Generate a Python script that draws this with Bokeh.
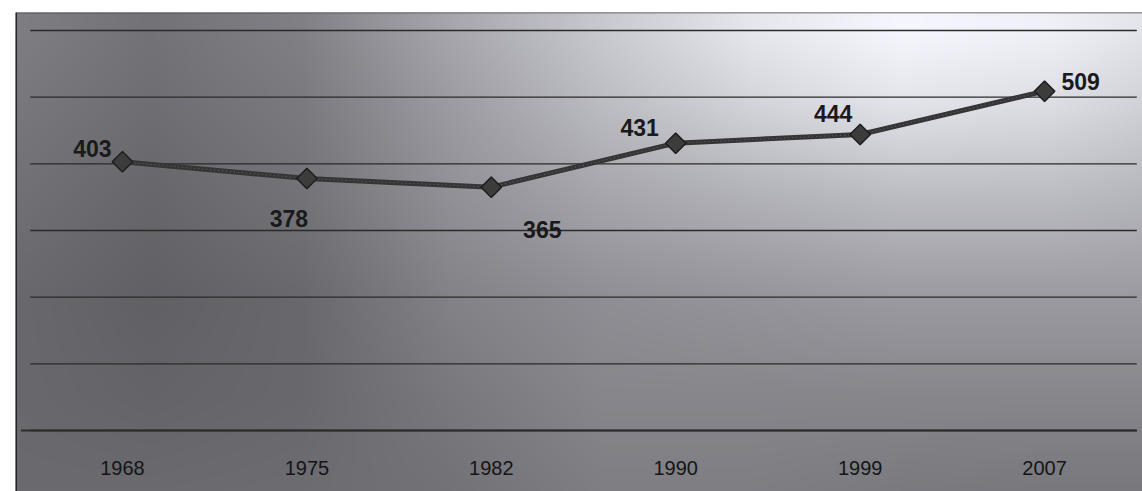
import numpy as np
from bokeh.plotting import figure
from bokeh.models import Range1d, Span
from bokeh.embed import file_html
from bokeh.resources import INLINE
from bokeh.core.properties import value

# ---- data ----
years = ["1968", "1975", "1982", "1990", "1999", "2007"]
values = [403, 378, 365, 431, 444, 509]
grid_levels = [0, 100, 200, 300, 400, 500, 600]

# ---- label placement (style, pixels) ----
label_dx = [-30, -18, 51, -36, -27, 36]
label_dy = [-13, 40, 42, -16, -21, -10]

xs = list(range(len(years)))
x_start, x_end = -0.580, 5.531
y_start, y_end = -91.5, 627.0

W, H = 1142, 491
p = figure(width=W, height=H,
           x_range=Range1d(x_start, x_end), y_range=Range1d(y_start, y_end),
           output_backend="svg", toolbar_location=None,
           x_axis_location=None, y_axis_location=None,
           min_border_left=15, min_border_right=0,
           min_border_top=12, min_border_bottom=0,
           border_fill_color="white", outline_line_color=None)
p.grid.visible = False

# ---- background shading (scanned grey gradient) ----
gx = [15, 150, 300, 450, 600, 750, 900, 1050, 1142]
gy = [30, 100, 200, 300, 400, 491]
G = [
    [126, 114, 128, 166, 200, 230, 246, 240, 228],
    [120, 110, 122, 156, 188, 212, 228, 222, 210],
    [112, 102, 114, 144, 164, 176, 186, 186, 180],
    [104, 96, 104, 130, 142, 148, 154, 154, 154],
    [104, 100, 104, 120, 134, 134, 134, 134, 134],
    [106, 106, 108, 114, 126, 126, 122, 120, 120],
]
nx, ny = 564, 240
px = np.linspace(15, 1142, nx)
py = np.linspace(491, 12, ny)
rows = np.array([np.interp(px, gx, r) for r in G])
img = np.empty((ny, nx))
for j in range(nx):
    img[:, j] = np.interp(py, gy, rows[:, j])
rgba = np.empty((ny, nx), dtype=np.uint32)
view = rgba.view(dtype=np.uint8).reshape((ny, nx, 4))
view[:, :, 0] = np.clip(img, 0, 255).astype(np.uint8)
view[:, :, 1] = np.clip(img, 0, 255).astype(np.uint8)
view[:, :, 2] = np.clip(img * 1.02 + 3, 0, 255).astype(np.uint8)
view[:, :, 3] = 255
p.image_rgba(image=[rgba], x=x_start, y=y_start, dw=x_end - x_start, dh=y_end - y_start)

# ---- gridlines ----
n = len(years)
p.segment(x0=[-0.5] * len(grid_levels), x1=[n - 0.5] * len(grid_levels),
          y0=grid_levels, y1=grid_levels, line_color="#2b2b2b", line_width=1.3)
p.segment(x0=[-0.55], x1=[n - 0.5], y0=[grid_levels[0]], y1=[grid_levels[0]],
          line_color="#2b2b2b", line_width=2)

# ---- chart-area borders ----
p.add_layout(Span(location=x_start, dimension="height", line_color="#262626", line_width=3))
p.add_layout(Span(location=y_end, dimension="width", line_color="#3a3a3a", line_width=1.5))

# ---- series ----
p.line(xs, values, line_color="#353535", line_width=5)
p.line(xs, values, line_color="#5e5e5e", line_width=1.2, line_dash="1 3")
p.scatter(xs, values, marker="square", size=14.5, angle=np.pi / 4,
          fill_color="#3c3c3c", line_color="#1e1e1e", line_width=1.5)

# ---- value labels ----
p.text(x=xs, y=values, text=[str(v) for v in values],
       x_offset=label_dx, y_offset=label_dy,
       text_font=value("Liberation Sans"), text_font_style="bold",
       text_font_size="23px", text_align="center", text_baseline="alphabetic",
       text_color="#1a1a1a")

# ---- category labels ----
p.text(x=xs, y=[grid_levels[0]] * n, text=years, y_offset=37,
       text_font=value("Liberation Sans"), text_font_size="20px",
       text_align="center", text_baseline="alphabetic", text_color="#151515")

open("out.html", "w").write(file_html(p, INLINE))
